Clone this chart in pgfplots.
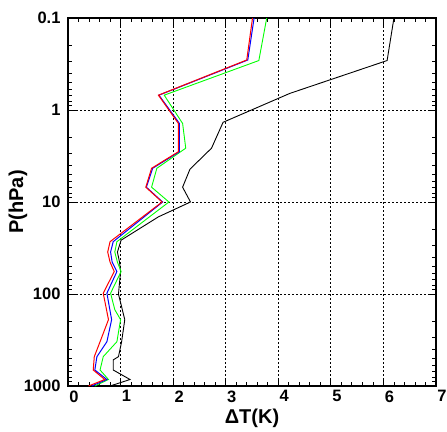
\documentclass[border=0pt]{standalone}
\usepackage{pgfplots}
\pgfplotsset{compat=1.18}
\usepackage{fontspec}
\setmainfont{Liberation Sans}

% dT profiles, x = dT (K), p = pressure (hPa)
\pgfplotstableread{
x p
0.39 1000
0.70 850
0.48 670
0.50 480
0.61 330
0.77 190
0.67 98
0.88 57
0.80 45
0.755 35
0.80 27
1.79 10
1.48 6.9
1.59 4.3
2.10 2.84
2.10 1.40
1.72 0.69
3.40 0.286
3.51 0.1
}\redtab
\pgfplotstableread{
x p
0.45 1000
0.74 850
0.51 670
0.55 480
0.74 330
0.83 190
0.74 98
0.93 57
0.84 45
0.81 35
0.86 27
1.80 10
1.49 6.9
1.61 4.3
2.12 2.84
2.12 1.40
1.73 0.69
3.42 0.286
3.54 0.1
}\bluetab
\pgfplotstableread{
x p
0.51 1000
0.77 850
0.61 670
0.67 480
0.93 330
1.00 190
0.89 148
0.81 98
1.01 57
0.94 45
0.89 35
0.93 27
1.92 10
1.59 6.9
1.69 4.3
2.24 2.6
2.18 1.4
1.83 0.69
3.63 0.29
3.78 0.1
}\greentab
\pgfplotstableread{
x p
0.80 1000
1.18 850
0.86 670
0.86 520
0.96 480
1.02 330
1.08 190
0.96 100
1.00 57
0.98 45
0.94 35
1.01 26
1.72 14.5
2.33 10
2.18 6.9
2.32 4.4
2.73 2.6
2.95 1.36
4.22 0.66
6.07 0.29
6.20 0.1
}\blacktab

\begin{document}
\begin{tikzpicture}
\useasboundingbox (-68pt,-45pt) rectangle (379pt,386pt);
\begin{axis}[
    at={(0pt,0pt)}, anchor=south west,
    scale only axis,
    width=368pt, height=368pt,
    xmin=0, xmax=7,
    ymode=log, ymin=0.1, ymax=1000,
    y dir=reverse,
    xtick={0,1,2,3,4,5,6,7},
    xticklabels={0,1,2,3,4,5,6,7},
    ytick={0.1,1,10,100,1000},
    yticklabels={0.1,1,10,100,1000},
    minor ytick={0.2,0.3,0.4,0.5,0.6,0.7,0.8,0.9,
                 2,3,4,5,6,7,8,9,20,30,40,50,60,70,80,90,
                 200,300,400,500,600,700,800,900},
    minor x tick num=4,
    tick align=inside,
    major tick length=8pt, minor tick length=4pt,
    tick style={black, line width=0.8pt},
    grid=major,
    major grid style={black, line width=1pt, dash pattern=on 2pt off 2pt},
    minor grid style={draw=none},
    axis line style={line width=1.2pt},
    ticklabel style={font=\fontsize{16.5}{16.5}\selectfont\bfseries},
    xticklabel style={xshift=6pt, yshift=-1pt},
    yticklabel style={xshift=-4pt},
    xlabel={ΔT(K)},
    ylabel={P(hPa)},
    label style={font=\fontsize{20}{20}\selectfont\bfseries},
    xlabel style={at={([yshift=-32pt]rel axis cs:0.5,0)}, anchor=center},
    ylabel style={at={([xshift=-50pt]rel axis cs:0,0.5)}, anchor=center, rotate=0},
  ]
  \addplot[black, line width=0.9pt] table[x=x, y=p] {\blacktab};
  \addplot[green, line width=0.9pt] table[x=x, y=p] {\greentab};
  \addplot[blue, line width=1pt] table[x=x, y=p] {\bluetab};
  \addplot[red, line width=1pt] table[x=x, y=p] {\redtab};
\end{axis}
\end{tikzpicture}
\end{document}
